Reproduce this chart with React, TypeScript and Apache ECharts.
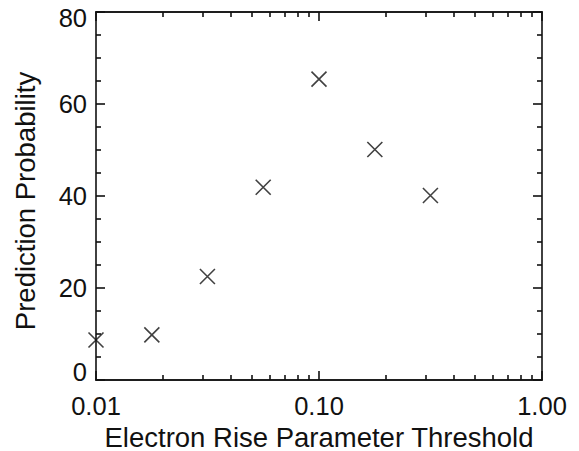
import React, { useEffect, useRef } from "react";
import * as echarts from "echarts";

const thresholds = [0.01, 0.0178, 0.0316, 0.0562, 0.1, 0.178, 0.316];
const probabilities = [8.7, 9.8, 22.5, 41.9, 65.4, 50.1, 40.1];
const xMajorTicks = [0.01, 0.1, 1];
const xMinorTicks = [0.02, 0.03, 0.04, 0.05, 0.06, 0.07, 0.08, 0.09, 0.2, 0.3, 0.4, 0.5, 0.6, 0.7, 0.8, 0.9];
const yMin = 0;
const yMax = 80;
const xTitle = "Electron Rise Parameter Threshold";
const yTitle = "Prediction Probability";

const FONT = "'Liberation Sans', Arial, Helvetica, sans-serif";
const AX = { color: "#111", width: 1.6 };
const LBL = { color: "#111", fontSize: 25.5, fontFamily: FONT };

export default function App() {
  const ref = useRef<HTMLDivElement>(null);
  useEffect(() => {
    if (!ref.current) return;
    const chart = echarts.init(ref.current, null, { renderer: "svg" });
    const xBase = (pos: string, ticks: number[], len: number, showLabel: boolean, name?: string) => ({
      type: "log",
      logBase: 10,
      min: 0.01,
      max: 1,
      position: pos,
      name: name,
      nameLocation: "middle",
      nameGap: 39,
      nameTextStyle: { color: "#111", fontSize: 27.5, lineHeight: 28, fontFamily: FONT },
      axisLine: { show: true, lineStyle: AX },
      axisTick: { show: true, inside: true, length: len, customValues: ticks, lineStyle: AX },
      axisLabel: {
        show: showLabel,
        customValues: showLabel ? xMajorTicks : undefined,
        formatter: (v: number) => Number(v).toFixed(2),
        ...LBL,
        margin: 13,
      },
      splitLine: { show: false },
      minorTick: { show: false },
    });
    const yBase = (pos: string, showLabel: boolean, name?: string) => ({
      type: "value",
      min: yMin,
      max: yMax,
      interval: 20,
      position: pos,
      name: name,
      nameLocation: "middle",
      nameGap: 57,
      nameTextStyle: { color: "#111", fontSize: 27.5, fontFamily: FONT, padding: [0, 10, 0, 0] },
      axisLine: { show: true, lineStyle: AX },
      axisTick: { show: true, inside: true, length: 9, lineStyle: AX },
      minorTick: { show: true, splitNumber: 4, length: 5, lineStyle: AX },
      axisLabel: {
        show: showLabel,
        ...LBL,
        margin: 9,
        formatter: (v: number) =>
          v === yMax ? `{top|${v}}` : v === yMin ? `{bot|${v}}` : `${v}`,
        rich: {
          top: { ...LBL, padding: [11, 0, 0, 0] },
          bot: { ...LBL, padding: [0, 0, 16, 0] },
        },
      },
      splitLine: { show: false },
      minorSplitLine: { show: false },
    });
    chart.setOption({
      animation: false,
      backgroundColor: "#fff",
      grid: { left: 96, right: 37, top: 12, bottom: 71, containLabel: false, outerBoundsMode: "none" },
      xAxis: [
        xBase("bottom", xMajorTicks, 9, true, xTitle),
        xBase("bottom", xMinorTicks, 5, false),
        xBase("top", xMajorTicks, 9, false),
        xBase("top", xMinorTicks, 5, false),
      ],
      yAxis: [yBase("left", true, yTitle), yBase("right", false)],
      series: [
        {
          type: "scatter",
          xAxisIndex: 0,
          yAxisIndex: 0,
          data: thresholds.map((t, i) => [t, probabilities[i]]),
          symbol: "path://M0,0L10,10M10,0L0,10",
          symbolSize: 15,
          itemStyle: { color: "none", borderColor: "#111", borderWidth: 1.6 },
          clip: false,
        },
      ],
    });
    return () => chart.dispose();
  }, []);
  return (
    <div
      ref={ref}
      style={{ position: "absolute", left: 0, top: 0, width: 579, height: 451 }}
    />
  );
}
